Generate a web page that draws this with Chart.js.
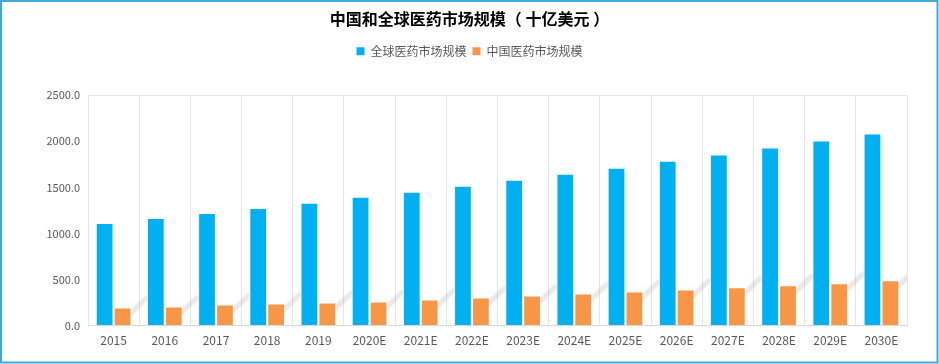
<!DOCTYPE html>
<html>
<head>
<meta charset="utf-8">
<script src="https://cdn.jsdelivr.net/npm/chart.js@4"></script>
<style>
    html, body { margin: 0; padding: 0; background: #ffffff; }
    #grafico { display: block; }
</style>
</head>
<body>
<canvas id="grafico" width="939" height="364"></canvas>
<script>
const anos = ["2015", "2016", "2017", "2018", "2019", "2020E", "2021E", "2022E", "2023E", "2024E", "2025E", "2026E", "2027E", "2028E", "2029E", "2030E"];
const mercadoGlobal = [1103, 1157, 1212, 1266, 1321, 1386, 1441, 1507, 1572, 1638, 1703, 1779, 1845, 1921, 1998, 2074];
const mercadoChina = [186, 197, 218, 229, 240, 251, 273, 295, 317, 338, 360, 382, 404, 426, 448, 480];
const ticksY = [0, 500, 1000, 1500, 2000, 2500];

const fonte = "'Noto Sans CJK SC', 'Noto Sans', sans-serif";

// moldura azul, espaco abaixo da legenda e sombras atras das barras laranja
const moldura = {
    id: "moldura",
    afterInit: function (chart) {
        const legenda = chart.legend;
        if (legenda) {
            const fitOriginal = legenda.fit;
            legenda.fit = function () {
                fitOriginal.call(this);
                this.height += 28;
            };
        }
    },
    beforeDraw: function (chart) {
        const ctx = chart.ctx;
        ctx.save();
        ctx.fillStyle = "#ffffff";
        ctx.fillRect(0, 0, chart.width, chart.height);
        ctx.restore();
    },
    beforeDatasetsDraw: function (chart) {
        const ctx = chart.ctx;
        const laranja = chart.getDatasetMeta(1).data;
        const azul = chart.getDatasetMeta(0).data;
        ctx.save();
        ctx.beginPath();
        ctx.rect(chart.chartArea.left, chart.chartArea.top, chart.chartArea.right - chart.chartArea.left, chart.chartArea.bottom - chart.chartArea.top);
        ctx.clip();
        ctx.strokeStyle = "rgba(150,150,150,0.16)";
        ctx.lineWidth = 5;
        ctx.lineCap = "round";
        ctx.shadowColor = "rgba(110,110,110,0.40)";
        ctx.shadowBlur = 7;
        laranja.forEach(function (barra, i) {
            const x0 = barra.x + barra.width / 2;
            const y0 = barra.y + 5;
            const x1 = i + 1 < azul.length ? azul[i + 1].x - azul[i + 1].width / 2 - 2 : chart.chartArea.right + 6;
            const y1 = barra.y - 10;
            ctx.beginPath();
            ctx.moveTo(x0, y0);
            ctx.lineTo(x1, y1);
            ctx.stroke();
        });
        ctx.restore();
    },
    afterDraw: function (chart) {
        const ctx = chart.ctx;
        ctx.save();
        ctx.strokeStyle = "#45a9d6";
        ctx.lineWidth = 2;
        ctx.strokeRect(1, 1, chart.width - 2.5, chart.height - 2.5);
        ctx.restore();
    }
};

new Chart(document.getElementById("grafico"), {
    type: "bar",
    data: {
        labels: anos,
        datasets: [{
            label: "全球医药市场规模",
            data: mercadoGlobal,
            backgroundColor: "#00b0f0"
        }, {
            label: "中国医药市场规模",
            data: mercadoChina,
            backgroundColor: "#f79646"
        }]
    },
    options: {
        responsive: false,
        animation: false,
        devicePixelRatio: 1,
        datasets: {
            bar: {
                categoryPercentage: 0.7,
                barPercentage: 0.88
            }
        },
        layout: {
            padding: { left: 32, right: 32, top: 8, bottom: 8 }
        },
        plugins: {
            title: {
                display: true,
                text: "中国和全球医药市场规模（ 十亿美元 ）",
                color: "#000000",
                font: { family: fonte, size: 16, weight: "bold" },
                padding: { top: 1, bottom: 11 }
            },
            legend: {
                display: true,
                position: "top",
                labels: {
                    color: "#595959",
                    font: { family: fonte, size: 12 },
                    boxWidth: 8,
                    boxHeight: 8,
                    padding: 6
                }
            },
            tooltip: { enabled: false }
        },
        scales: {
            x: {
                grid: {
                    color: "#e6e6e6",
                    drawTicks: false
                },
                border: { color: "#d9d9d9" },
                ticks: {
                    color: "#595959",
                    font: { family: fonte, size: 12 },
                    padding: 8,
                    maxRotation: 0
                }
            },
            y: {
                min: 0,
                max: 2500,
                afterBuildTicks: function (scale) {
                    scale.ticks = ticksY.map(function (v) { return { value: v }; });
                },
                afterFit: function (scale) {
                    scale.width = 56;
                },
                grid: {
                    drawTicks: false,
                    color: function (context) {
                        return context.tick && context.tick.value === 2500 ? "#e6e6e6" : "rgba(0,0,0,0)";
                    }
                },
                border: { color: "#e6e6e6" },
                ticks: {
                    color: "#595959",
                    font: { family: fonte, size: 11 },
                    padding: 8,
                    callback: function (valor) {
                        return Number(valor).toFixed(1);
                    }
                }
            }
        }
    },
    plugins: [moldura]
});
</script>
</body>
</html>
